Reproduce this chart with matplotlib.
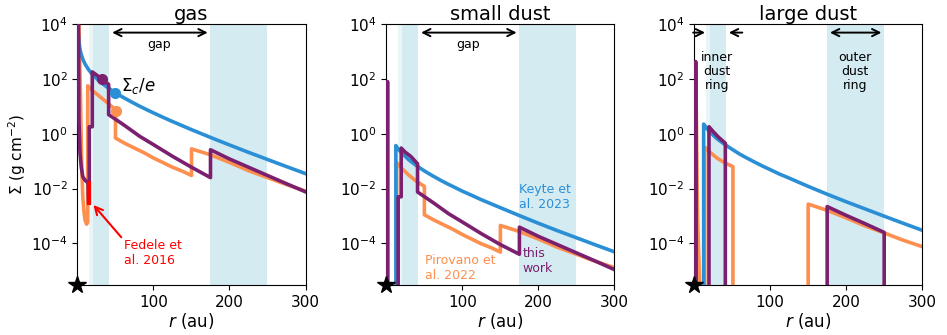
import matplotlib.pyplot as plt
from matplotlib.ticker import FixedLocator, NullLocator

# surface density profiles, r in au, sigma in g cm^-2
BOTTOM = 1e-7

# Keyte et al. 2023
r_key = [0.4, 1, 2, 3, 5, 7, 10, 15, 20, 30, 40, 50, 60, 70, 80, 90, 100, 112, 125, 150,
         175, 200, 225, 250, 275, 300]
gas_key = [10540, 4170, 2040, 1330, 770, 528, 348, 210, 142, 77.8, 47.7, 31.3, 21.3, 15.0, 10.7,
           7.8, 5.75, 4.04, 2.79, 1.41, 0.734, 0.389, 0.210, 0.115, 0.0632, 0.0351]
r_key_dust = [12.5, 12.5, 15, 20, 30, 40, 50, 60, 70, 80, 90, 100, 112, 125, 150, 175, 200, 225,
              250, 275, 300]
small_key = [BOTTOM, 0.37, 0.29, 0.2, 0.109, 0.067, 0.044, 0.030, 0.021, 0.015, 0.011, 0.0080,
             0.0057, 0.0039, 0.0020, 0.00103, 5.4e-4, 2.9e-4, 1.6e-4, 8.8e-5, 4.9e-5]
large_key = [BOTTOM, 2.25, 1.79, 1.21, 0.66, 0.41, 0.27, 0.18, 0.127, 0.091, 0.066, 0.049,
             0.034, 0.024, 0.012, 0.0062, 0.0033, 0.0018, 9.8e-4, 5.4e-4, 3.0e-4]

# Pirovano et al. 2022
r_pir_gas = [2, 3, 4, 5, 6, 7, 8.5, 10, 12, 13.5, 13.5, 20, 30, 40, 50, 50, 62, 75, 88, 100,
             112, 125, 138, 150, 150, 175, 200, 225, 250, 275, 300]
gas_pir = [1e4, 400, 20, 0.5, 0.03, 0.005, 1.5e-3, 7e-4, 5e-4, 6e-4, 56, 37, 22, 13, 7.5, 0.7,
           0.45, 0.3, 0.2, 0.13, 0.09, 0.06, 0.043, 0.03, 0.28, 0.17, 0.09, 0.045, 0.025, 0.014,
           0.008]
r_pir_small = [13.5, 13.5, 20, 30, 40, 50, 50, 62, 75, 88, 100, 112, 125, 138, 150, 150, 175,
               200, 225, 250, 275, 300]
small_pir = [BOTTOM, 0.09, 0.055, 0.03, 0.018, 0.012, 0.0011, 7.2e-4, 4.8e-4, 3.2e-4, 2.1e-4,
             1.44e-4, 9.6e-5, 6.9e-5, 4.8e-5, 4.5e-4, 2.7e-4, 1.44e-4, 7.2e-5, 4e-5, 2.2e-5,
             1.3e-5]
r_pir_large = [1.5, 2, 3, 4, 4.5, 5.5, 6.5, 7.5, 14, 14, 20, 30, 40, 51, 51, 150, 150, 175, 200,
               225, 250, 275, 300]
large_pir = [BOTTOM, 200, 3, 0.01, 1e-3, 1e-4, 1.5e-5, 2e-6, BOTTOM, 0.32, 0.22, 0.13, 0.088,
             0.063, BOTTOM, BOTTOM, 2.7e-3, 1.6e-3, 8.5e-4, 4.3e-4, 2.4e-4, 1.3e-4, 7.6e-5]

# this work
r_this_gas = [1.2, 2, 3.3, 5, 7, 10, 14, 14.5, 15.5, 15.5, 19.5, 19.5, 25, 32, 41, 41, 62, 82,
              100, 125, 150, 175, 175, 200, 225, 250, 275, 300]
gas_this = [1e5, 3, 0.2, 0.06, 0.027, 0.02, 0.016, 0.003, 0.003, 1.8, 1.8, 180, 140, 100, 63, 5,
            2, 0.8, 0.4, 0.15, 0.06, 0.025, 0.26, 0.12, 0.06, 0.03, 0.015, 0.0076]
r_this_small = [1, 1.5, 2, 15.5, 15.5, 19.5, 19.5, 25, 32, 41, 41, 62, 82, 100, 125, 150, 175,
                175, 200, 225, 250, 275, 300]
small_this = [BOTTOM, 80, BOTTOM, BOTTOM, 0.005, 0.005, 0.3, 0.21, 0.15, 0.08, 0.0075, 0.003,
              0.0012, 6e-4, 2.25e-4, 9e-5, 4e-5, 3.9e-4, 1.8e-4, 9e-5, 4.5e-5, 2.25e-5, 1.1e-5]
r_this_large = [1.5, 2, 2.5, 19.5, 19.5, 25, 32, 41, 41, 175, 175, 200, 225, 250, 250]
large_this = [BOTTOM, 430, BOTTOM, BOTTOM, 1.8, 1.2, 0.75, 0.45, BOTTOM, BOTTOM, 2.2e-3,
              1.05e-3, 5.2e-4, 2.5e-4, BOTTOM]

# Sigma_c / e points (r, sigma)
sc_key = (50, 31)
sc_pir = (51, 6.5)
sc_this = (32, 100)

# Fedele et al. 2016 cavity constraint
fedele_r = 15
fedele_sigma = [0.003, 0.016]

c_key = "#2b8fd6"
c_pir = "#fd8f4f"
c_this = "#7b1f6f"
c_ring = "#add8e6"

plt.rcParams.update({
    "font.size": 11,
    "xtick.labelsize": 11,
    "ytick.labelsize": 11,
})

fig = plt.figure(figsize=(9.47, 3.35), dpi=100)
lefts = [0.0818, 0.408, 0.733]
axes = [fig.add_axes([l, 0.149, 0.2408, 0.779]) for l in lefts]

panels = [
    ("gas", (r_key, gas_key), (r_pir_gas, gas_pir), (r_this_gas, gas_this)),
    ("small dust", (r_key_dust, small_key), (r_pir_small, small_pir), (r_this_small, small_this)),
    ("large dust", (r_key_dust, large_key), (r_pir_large, large_pir), (r_this_large, large_this)),
]

lw = 2.6
for ax, (title, key, pir, this) in zip(axes, panels):
    ax.axvspan(15.5, 20.5, color=c_ring, alpha=0.25, lw=0)
    ax.axvspan(20.5, 41.5, color=c_ring, alpha=0.5, lw=0)
    ax.axvspan(175, 250, color=c_ring, alpha=0.5, lw=0)

    ax.plot(*key, color=c_key, lw=lw, zorder=3)
    ax.plot(*pir, color=c_pir, lw=lw, zorder=2)
    ax.plot(*this, color=c_this, lw=lw, zorder=4)

    ax.set_yscale("log")
    ax.set_xlim(0, 300)
    ax.set_ylim(3e-6, 1e4)
    ax.xaxis.set_major_locator(FixedLocator([100, 200, 300]))
    ax.yaxis.set_major_locator(FixedLocator([1e-4, 1e-2, 1, 1e2, 1e4]))
    ax.yaxis.set_minor_locator(NullLocator())
    ax.set_title(title, fontsize=14, pad=3)
    ax.set_xlabel("$r$ (au)", fontsize=12, labelpad=1)
    ax.plot(0, 3e-6, marker="*", color="k", ms=13, clip_on=False, zorder=10)

axes[0].set_ylabel(r"$\Sigma$ (g cm$^{-2}$)", fontsize=11, labelpad=2)

# gas panel extras
ax = axes[0]
for (r, s), c in [(sc_key, c_key), (sc_pir, c_pir), (sc_this, c_this)]:
    ax.plot(r, s, "o", color=c, ms=7, zorder=5)
ax.text(57, 56, r"$\Sigma_c/e$", fontsize=12, va="center", ha="left")
ax.plot([fedele_r, fedele_r], fedele_sigma, color="red", lw=3, zorder=6)
ax.annotate("", xy=(18.6, 0.003), xytext=(60, 1.4e-4),
            arrowprops=dict(arrowstyle="->", color="red", lw=1.5, mutation_scale=14))
ax.text(61, 4.5e-5, "Fedele et\nal. 2016", color="red", fontsize=9, va="center", ha="left")

for ax in axes[:2]:
    ax.annotate("", xy=(42, 4900), xytext=(175, 4900),
                arrowprops=dict(arrowstyle="<->", color="k", lw=1.4, mutation_scale=13))
    ax.text(108, 1850, "gap", fontsize=9, ha="center", va="center")

# small dust labels
ax = axes[1]
ax.text(175, 5e-3, "Keyte et\nal. 2023", color=c_key, fontsize=9, va="center", ha="left")
ax.text(51, 1.3e-5, "Pirovano et\nal. 2022", color=c_pir, fontsize=9, va="center", ha="left")
ax.text(179, 2.3e-5, "this\nwork", color=c_this, fontsize=9, va="center", ha="left")

# large dust ring markers
ax = axes[2]
ax.annotate("", xy=(18, 4900), xytext=(-5, 4900), annotation_clip=False,
            arrowprops=dict(arrowstyle="->", color="k", lw=1.4, mutation_scale=13))
ax.annotate("", xy=(42, 4900), xytext=(67, 4900),
            arrowprops=dict(arrowstyle="->", color="k", lw=1.4, mutation_scale=13))
ax.annotate("", xy=(175, 4900), xytext=(250, 4900),
            arrowprops=dict(arrowstyle="<->", color="k", lw=1.4, mutation_scale=13))
ax.text(30, 180, "inner\ndust\nring", fontsize=9, ha="center", va="center", linespacing=1.1)
ax.text(212, 180, "outer\ndust\nring", fontsize=9, ha="center", va="center", linespacing=1.1)

fig.savefig("out.png", dpi=100)
